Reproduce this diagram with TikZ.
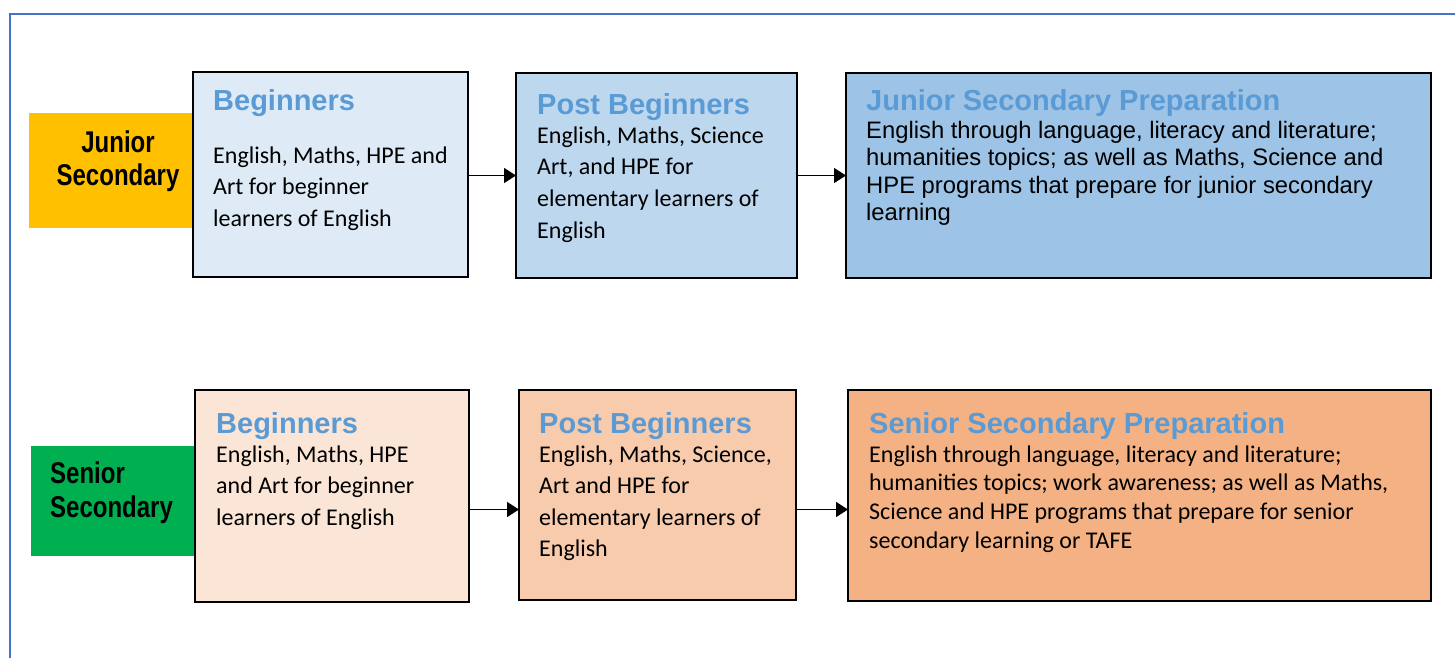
\documentclass[tikz,border=0pt]{standalone}
\usepackage{fontspec}
\usetikzlibrary{arrows.meta,calc}
\newfontfamily\arialf{Liberation Sans}
\newfontfamily\narrowf[FakeStretch=0.8]{Liberation Sans}
\newfontfamily\calibf{Carlito}
\definecolor{frameblue}{HTML}{4472C4}
\definecolor{titleblue}{HTML}{5B9BD5}
\definecolor{jorange}{HTML}{FFC000}
\definecolor{sgreen}{HTML}{00B050}
\definecolor{bA}{HTML}{DEEBF7}
\definecolor{bB}{HTML}{BDD7EE}
\definecolor{bC}{HTML}{9DC3E6}
\definecolor{oA}{HTML}{FBE5D6}
\definecolor{oB}{HTML}{F8CBAD}
\definecolor{oC}{HTML}{F4B183}
\tikzset{
  stagebox/.style={draw=black, line width=2pt, inner sep=0pt, outer sep=0pt, anchor=north west},
  levelbox/.style={inner sep=0pt, outer sep=0pt, anchor=north west},
  txt/.style={inner sep=0pt, anchor=base west},
  ttl/.style={txt, text=titleblue, font=\arialf\bfseries\fontsize{29}{34}\selectfont},
  arr/.style={line width=1.5pt, -{Triangle[length=12pt,width=15pt]}},
}
\newcommand{\bodytext}[3]{\parbox[t]{#1pt}{\raggedright\fontsize{24}{#2}\selectfont #3}}
\begin{document}
\begin{tikzpicture}[x=1pt,y=-1pt]
\useasboundingbox (0,0) rectangle (1455,657);
\fill[white] (0,0) rectangle (1455,657);
\draw[frameblue, line width=2pt] (10,680) -- (10,14) -- (1480,14);

% level labels
\node[levelbox, fill=jorange, minimum width=175pt, minimum height=115pt] (jlab) at (29,113) {};
\node[levelbox, fill=sgreen, minimum width=175pt, minimum height=110pt] (slab) at (31,446) {};

% junior boxes
\node[stagebox, fill=bA, minimum width=275pt, minimum height=205pt] (jb) at (193,72) {};
\node[stagebox, fill=bB, minimum width=281pt, minimum height=205pt] (jpb) at (516,73) {};
\node[stagebox, fill=bC, minimum width=585pt, minimum height=205pt] (jsp) at (846,73) {};
% senior boxes
\node[stagebox, fill=oA, minimum width=274pt, minimum height=212pt] (sb) at (195,390) {};
\node[stagebox, fill=oB, minimum width=277pt, minimum height=210pt] (spb) at (519,390) {};
\node[stagebox, fill=oC, minimum width=583pt, minimum height=211pt] (ssp) at (848,390) {};

% label texts
\node[txt, anchor=base] (jlabT) at (118,152)
  {\parbox[t]{160pt}{\centering\narrowf\bfseries\fontsize{30}{33}\selectfont Junior\\Secondary}};
\node[txt] (slabT) at (50,483)
  {\parbox[t]{150pt}{\raggedright\narrowf\bfseries\fontsize{30}{34}\selectfont Senior\\Secondary}};

% junior texts
\node[ttl] (jbT) at (213,110) {Beginners};
\node[txt] (jbB) at (213,163) {\calibf\bodytext{250}{31.5}{English, Maths, HPE and\\Art for beginner\\learners of English}};
\node[ttl] (jpbT) at (537,114) {Post Beginners};
\node[txt] (jpbB) at (537,143) {\calibf\bodytext{255}{31.7}{English, Maths, Science\\Art, and HPE for\\elementary learners of\\English}};
\node[ttl] (jspT) at (866,110) {Junior Secondary Preparation};
\node[txt] (jspB) at (866,138) {\parbox[t]{555pt}{\raggedright\arialf\fontsize{23.8}{27.6}\selectfont English through language, literacy and literature;\\humanities topics; as well as Maths, Science and\\HPE programs that prepare for junior secondary\\learning}};

% senior texts
\node[ttl] (sbT) at (216,433) {Beginners};
\node[txt] (sbB) at (216,462) {\calibf\bodytext{250}{31.5}{English, Maths, HPE\\and Art for beginner\\learners of English}};
\node[ttl] (spbT) at (539,433) {Post Beginners};
\node[txt] (spbB) at (539,462) {\calibf\bodytext{255}{31.5}{English, Maths, Science,\\Art and HPE for\\elementary learners of\\English}};
\node[ttl] (sspT) at (869,433) {Senior Secondary Preparation};
\node[txt] (sspB) at (869,462) {\calibf\bodytext{555}{28.7}{English through language, literacy and literature;\\humanities topics; work awareness; as well as Maths,\\Science and HPE programs that prepare for senior\\secondary learning or TAFE}};

% connectors
\draw[arr] (jpb.west -| jb.east) -- (jpb.west);
\draw[arr] (jpb.east) -- (jpb.east -| jsp.west);
\draw[arr] ([yshift=-13.5pt]sb.east) -- ([yshift=-13.5pt]sb.east -| spb.west);
\draw[arr] ([yshift=-14.5pt]spb.east) -- ([yshift=-14.5pt]spb.east -| ssp.west);
\end{tikzpicture}
\end{document}
